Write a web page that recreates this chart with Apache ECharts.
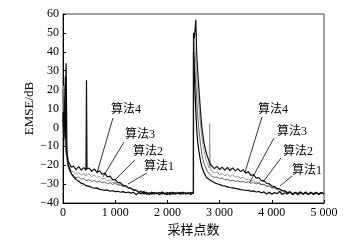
<!DOCTYPE html>
<html><head><meta charset="utf-8">
<script src="https://cdn.jsdelivr.net/npm/echarts@6/dist/echarts.min.js"></script>
<style>html,body{margin:0;padding:0;background:#fff}#c{width:355px;height:246px}</style>
</head><body><div id="c"></div>
<script>
// sample positions (first half, second half)
var xsSeg1 = [0,15,30,45,60,75,100,130,160,200,250,300,350,400,440,450,460,500,550,600,650,700,750,800,850,900,950,1000,1050,1100,1150,1200,1250,1300,1350,1400,1450,1500,1550,1600,1650,1700,1750,1800,1850,1900,1950,2000,2050,2100,2150,2200,2250,2300,2350,2400,2450,2499];
var xsSeg2 = [2500,2515,2530,2545,2560,2575,2600,2630,2660,2700,2750,2800,2810,2820,2850,2900,2950,3000,3050,3100,3150,3200,3250,3300,3350,3400,3450,3500,3550,3600,3650,3700,3750,3800,3850,3900,3950,4000,4050,4100,4150,4200,4250,4300,4350,4400,4450,4500,4550,4600,4650,4700,4750,4800,4850,4900,4950,5000];

// EMSE (dB)
var alg1 = [8,-2,10,-6,34,-12,-20,-22,-24.5,-26,-27.5,-28.5,-29.5,-30,-30.8,-30.2,-31,-31.2,-31.8,-32.2,-32,-32.8,-33,-33.3,-33.1,-33.8,-33.5,-34,-33.8,-34.3,-34,-34.6,-34.2,-34.8,-34.3,-35.6,-34.5,-35.2,-33.9,-35.4,-34.6,-35.3,-34.5,-35.1,-34.4,-35.2,-34.7,-35.6,-34.3,-35.3,-34.6,-35,-34.4,-35.2,-34.6,-35.1,-34.5,-35,
  40,30,18,8,0,-6,-12,-17,-21,-24,-26.5,-27.5,-28,-27.8,-28.5,-29.2,-29.8,-30.2,-30.8,-31,-31.5,-31.8,-32,-32.3,-32.5,-32.9,-33,-33.4,-33.3,-33.8,-33.6,-34.2,-33.9,-34.6,-34.1,-35.2,-34.3,-35.4,-34.4,-35.1,-33.9,-35.5,-34.6,-35.2,-34.2,-35.6,-34.5,-35,-34.1,-35.4,-34.6,-35.3,-34.3,-35.5,-34.7,-35.1,-34.4,-35.2];
var alg2 = [20,5,-4,-10,-14,-17,-21,-23.5,-24.5,-25.5,-26.8,-26.2,-27.5,-27,-28.2,-27.4,-28,-27.6,-28.6,-28,-29,-28.4,-29.3,-28.8,-29.8,-29.2,-30.2,-29.6,-30.6,-30.4,-31.4,-31.2,-32.2,-32,-33,-33.2,-34,-33.6,-34.8,-34.2,-35.4,-34.3,-35.6,-34.5,-35.2,-34,-35.5,-34.6,-35.3,-34.2,-35.7,-34.5,-35.1,-34.1,-35.5,-34.7,-35.2,-34.5,
  45,38,30,22,15,8,0,-8,-14,-19,-22.5,-24.5,-24,-25.2,-25.8,-26.5,-26.2,-27.2,-26.8,-27.8,-27.4,-28.3,-27.9,-28.6,-28.2,-28.9,-28.5,-29.2,-28.8,-29.5,-29.2,-29.9,-29.6,-30.4,-30.2,-31,-31,-31.8,-31.9,-32.6,-32.7,-33.4,-33.5,-34.3,-33.9,-35,-34.2,-35.4,-34.5,-35.1,-34.2,-35.6,-34.6,-35.2,-34.3,-35.4,-34.8,-35.1];
var alg3 = [15,22,0,-8,-12,-16,-19,-21.5,-23,-23.5,-24.8,-23.6,-25.3,-24.2,-25.8,-24.6,-25.5,-24.8,-26.1,-25.2,-26.6,-25.8,-27.3,-26.8,-28.2,-27.8,-29.1,-28.8,-30.2,-29.8,-31.2,-30.9,-32.2,-32,-33.2,-33,-34.2,-33.6,-35,-34.3,-35.4,-34.6,-35.2,-34.2,-35.6,-34.5,-35.1,-34.3,-35.5,-34.8,-35.2,-34.1,-35.6,-34.6,-35,-34.2,-35.4,-34.8,
  50,46,40,33,27,20,12,3,-5,-12,-18,-21.5,2,-22.5,-23.2,-24.2,-23.6,-25,-24.3,-25.6,-24.8,-26,-25.2,-26.4,-25.8,-27,-26.4,-27.6,-27.2,-28.4,-28,-29.2,-29,-30.2,-30,-31.2,-31,-32.2,-32,-33,-33,-33.8,-33.6,-34.6,-34.2,-35.3,-34.4,-35.5,-34.3,-35,-34.6,-35.4,-34.2,-35.3,-34.5,-35.6,-34.4,-35];
var alg4 = [5,-5,12,27,-8,-14,-18,-19.5,-21,-20.5,-22.3,-20.8,-22.6,-21.2,-22.8,25,-22,-21.5,-23.2,-22,-23.8,-23,-24.8,-24.2,-26.2,-25.8,-27.6,-27.6,-29.2,-29.2,-30.6,-30.8,-32,-32.2,-33.2,-33.3,-34.3,-34,-35.2,-34.4,-35.5,-34.3,-35.1,-34.7,-35.6,-34.2,-35.3,-34.5,-35.6,-34.4,-35,-34.7,-35.4,-34.3,-35.2,-34.6,-35.5,-34.4,
  50,47,52,57,40,32,22,10,0,-8,-14,-18,-17,-19.5,-20.5,-21.8,-20.6,-22.3,-21,-22.6,-21.2,-22.8,-21.4,-23,-21.8,-23.4,-22.4,-24.2,-23.4,-25.4,-25,-26.8,-26.6,-28.2,-28.2,-29.6,-29.8,-31,-31.3,-32.3,-32.6,-33.5,-33.6,-34.6,-34.2,-35.3,-34.4,-35.6,-34.6,-35.2,-34.1,-35.5,-34.5,-35.1,-34.3,-35.5,-34.6,-35.2];

var names = ['算法1','算法2','算法3','算法4'];
var xTickLabels = ['0','1 000','2 000','3 000','4 000','5 000'];

// annotation label anchors and arrow endpoints (data space)
var labelPos = {
  '算法4': [[1207, 9.2],[4023, 9.2]],
  '算法3': [[1475, -4],[4387, -2.4]],
  '算法2': [[1628, -13],[4502, -13]],
  '算法1': [[1839, -21],[4674, -23]]
};
var arrows = {
  '算法4': [[[958,5],[651,-24.1]],[[3812,5.5],[3487,-23.6]]],
  '算法3': [[[1169,-7.7],[766,-26.2]],[[4042,-5.6],[3582,-28.9]]],
  '算法2': [[[1379,-17.2],[996,-27.8]],[[4176,-16.2],[3831,-28.9]]],
  '算法1': [[[1609,-24.1],[1245,-30]],[[4387,-25.7],[4157,-31]]]
};

var xs = xsSeg1.concat(xsSeg2);
function pairs(ys){ var out=[]; for (var i=0;i<Math.min(xs.length, ys.length);i++) out.push([xs[i], ys[i]]); return out; }

var seriesDefs = [
  {name:'算法3', data:alg3, color:'#9a9a9a', w:1},
  {name:'算法2', data:alg2, color:'#606060', w:1},
  {name:'算法1', data:alg1, color:'#000000', w:1.2},
  {name:'算法4', data:alg4, color:'#111111', w:1.2}
];
var font = "'Liberation Serif','Noto Sans CJK SC',serif";

var series = seriesDefs.map(function(s){
  var lp = labelPos[s.name], ar = arrows[s.name];
  return {
    name: s.name, type:'line', data: pairs(s.data), showSymbol:false, symbol:'none',
    lineStyle:{color:s.color, width:s.w}, itemStyle:{color:s.color}, animation:false,
    z: 2,
    markLine: {
      silent:true, symbol:['none','arrow'], symbolSize:[0,5], animation:false,
      lineStyle:{color:'#000', width:0.8, type:'solid'},
      label:{show:false},
      data: ar.map(function(a){ return [{coord:a[0]},{coord:a[1]}]; })
    },
    markPoint: {
      silent:true, symbol:'circle', symbolSize:0, animation:false,
      label:{show:true, position:'inside', color:'#000', fontSize:12, fontFamily:font, formatter: s.name},
      data: lp.map(function(p){ return {coord:p, value:s.name}; })
    }
  };
});

var chart = echarts.init(document.getElementById('c'), null, {renderer:'canvas'});
chart.setOption({
  animation:false,
  backgroundColor:'#fff',
  grid:{left:63, right:31, top:14, bottom:43, show:true, borderColor:'#444', borderWidth:1, backgroundColor:'transparent'},
  xAxis:{
    type:'value', min:0, max:5000, interval:1000,
    name:'采样点数', nameLocation:'middle', nameGap:18,
    nameTextStyle:{fontFamily:font, fontSize:13, color:'#000'},
    axisLine:{show:true, onZero:false, lineStyle:{color:'#000', width:1}},
    axisTick:{show:true, inside:true, length:3, lineStyle:{color:'#000'}},
    axisLabel:{fontFamily:font, fontSize:12, color:'#000', margin:4,
      formatter:function(v){ return xTickLabels[Math.round(v/1000)]; }},
    splitLine:{show:false}
  },
  yAxis:{
    type:'value', min:-40, max:60, interval:10,
    name:'EMSE/dB', nameLocation:'middle', nameGap:27, nameRotate:90, nameMoveOverlap:false,
    nameTextStyle:{fontFamily:font, fontSize:13, color:'#000'},
    axisLine:{show:true, onZero:false, lineStyle:{color:'#000', width:1}},
    axisTick:{show:true, inside:true, length:3, lineStyle:{color:'#000'}},
    axisLabel:{fontFamily:font, fontSize:12, color:'#000', margin:4,
      formatter:function(v){ return v<0 ? '\u2212'+(-v) : String(v); }},
    splitLine:{show:false}
  },
  series: series
});
</script>
</body></html>
